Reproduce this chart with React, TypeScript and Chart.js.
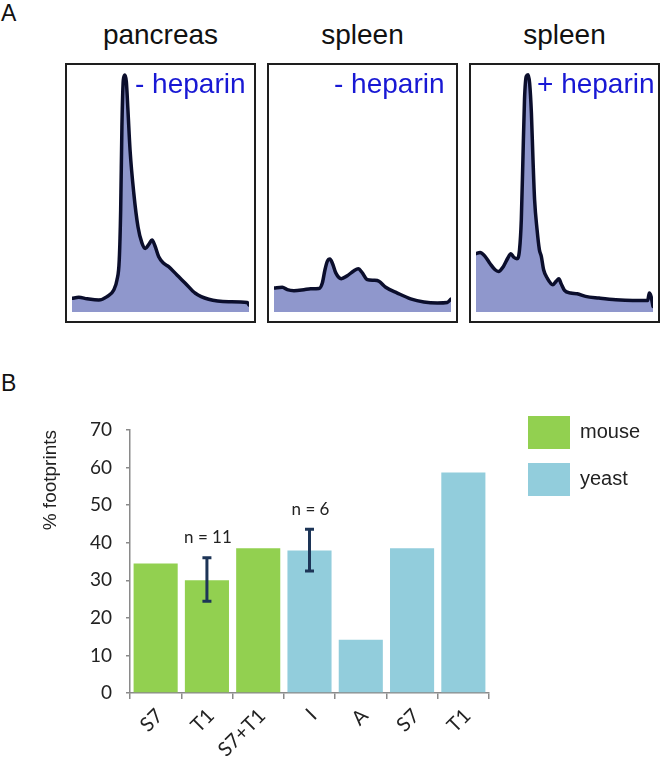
import React, { useEffect, useRef } from "react";
import { Chart, registerables } from "chart.js";

Chart.register(...registerables);

// ---------- Panel A: absorbance traces (position 0-100, intensity 0-100) ----------
const pancreasX = [0, 3.8, 8.5, 15.1, 19.8, 23.6, 25.4, 26.7, 27.5, 28.2, 29.0, 29.8, 30.7, 31.6, 32.8, 34.9, 37.3, 39.5, 41.4, 43.5, 45.2, 46.9, 49.0, 51.8, 54.6, 59.3, 64.0, 69.7, 77.2, 88.5, 98.9, 100];
const pancreasY = [5.7, 6.1, 5.5, 5.0, 6.4, 9.2, 13.3, 21.7, 42.5, 77.1, 96.7, 98.8, 96.0, 84.2, 67.5, 49.6, 35.4, 28.8, 26.5, 28.3, 30.0, 27.5, 23.0, 20.3, 18.9, 15.4, 12.0, 7.8, 5.3, 4.3, 4.0, 2.9];

const spleenX = [0, 4.7, 7.5, 11.3, 16.9, 20.7, 25.4, 27.3, 28.8, 30.1, 31.6, 33.1, 34.9, 38.0, 41.4, 45.2, 47.6, 49.9, 52.7, 56.5, 59.3, 63.1, 69.7, 77.2, 84.7, 92.3, 97.9, 100];
const spleenY = [10.0, 10.3, 9.3, 8.9, 9.3, 9.7, 9.8, 12.1, 17.6, 21.1, 22.1, 20.1, 16.3, 13.9, 15.1, 17.2, 18.0, 16.3, 13.5, 13.2, 12.8, 10.3, 7.9, 5.5, 4.2, 3.8, 4.0, 5.4];

const spleenHepX = [0, 2.3, 5.1, 8.0, 10.8, 12.7, 15.5, 18.0, 19.7, 21.2, 23.1, 24.6, 25.6, 26.5, 27.4, 28.4, 29.4, 30.3, 31.3, 32.2, 33.1, 34.5, 35.8, 36.9, 38.2, 40.2, 43.4, 45.3, 46.8, 48.1, 50.0, 53.4, 57.2, 61.9, 69.5, 79.0, 88.5, 97.0, 97.9, 98.9, 100];
const spleenHepY = [24.3, 24.8, 23.2, 20.1, 17.6, 16.9, 19.0, 22.5, 24.3, 22.9, 22.2, 26.0, 38.5, 63.5, 88.5, 98.2, 98.9, 95.4, 82.9, 63.5, 46.8, 34.3, 26.0, 23.2, 17.6, 14.2, 11.4, 12.8, 13.9, 11.8, 9.0, 7.9, 7.6, 6.5, 5.8, 5.1, 4.8, 4.8, 7.9, 6.5, 2.3];

const panelTitles = ["pancreas", "spleen", "spleen"];
const panelLabels = ["- heparin", "- heparin", "+ heparin"];

// ---------- Panel B: footprint percentages ----------
const categories = ["S7", "T1", "S7+T1", "I", "A", "S7", "T1"];
const mouseValues = [34.5, 30.0, 38.5, null, null, null, null];
const yeastValues = [null, null, null, 37.9, 14.2, 38.5, 58.7];
const errLow = [null, 24.4, null, 32.5, null, null, null];
const errHigh = [null, 36.0, null, 43.6, null, null, null];
const nLabels = ["", "n = 11", "", "n = 6", "", "", ""];
const seriesNames = ["mouse", "yeast"];
const yMin = 0;
const yMax = 70;
const yStep = 10;

const SANS = "'Liberation Sans', Arial, sans-serif";
const NARROW = "Lato, 'Open Sans', sans-serif";

function Trace({ left, xs, ys, title, label, labelLeft }: any) {
  const ref = useRef<HTMLCanvasElement>(null);
  useEffect(() => {
    const chart = new Chart(ref.current!, {
      type: "line",
      data: {
        datasets: [
          {
            data: xs.map((x: number, i: number) => ({ x, y: ys[i] })),
            borderColor: "#0b0e2c",
            borderWidth: 3.5,
            backgroundColor: "#8f97cc",
            fill: "start",
            pointRadius: 0,
            cubicInterpolationMode: "monotone",
            borderCapStyle: "round",
            borderJoinStyle: "round",
          } as any,
        ],
      },
      options: {
        animation: false,
        responsive: false,
        maintainAspectRatio: false,
        events: [],
        layout: { padding: { left: 5, right: 5, top: 7, bottom: 9 } },
        scales: {
          x: { type: "linear", min: 0, max: 100, display: false },
          y: { type: "linear", min: 0, max: 100, display: false },
        },
        plugins: { legend: { display: false }, tooltip: { enabled: false } },
      },
    });
    return () => chart.destroy();
  }, []);
  return (
    <>
      <div
        style={{
          position: "absolute",
          left,
          top: 21,
          width: 191,
          textAlign: "center",
          font: `28px/28px ${SANS}`,
          color: "#111",
        }}
      >
        {title}
      </div>
      <div
        style={{
          position: "absolute",
          left,
          top: 63,
          width: 191,
          height: 260,
          border: "2px solid #1e1e1e",
          boxSizing: "border-box",
        }}
      >
        <canvas ref={ref} width={187} height={256} style={{ position: "absolute", left: 0, top: 0, width: 187, height: 256 }} />
      </div>
      <div
        style={{
          position: "absolute",
          left: labelLeft,
          top: 70,
          font: `28px/28px ${SANS}`,
          color: "#1818d4",
          whiteSpace: "nowrap",
        }}
      >
        {label}
      </div>
    </>
  );
}

const errorBarPlugin = {
  id: "errorBars",
  afterDatasetsDraw(chart: any) {
    const { ctx } = chart;
    const x = chart.scales.x;
    const y = chart.scales.y;
    ctx.save();
    errLow.forEach((lo, i) => {
      const hi = errHigh[i];
      if (lo == null || hi == null) return;
      const px = x.getPixelForValue(i);
      const yLo = y.getPixelForValue(lo);
      const yHi = y.getPixelForValue(hi);
      ctx.strokeStyle = "#1d3557";
      ctx.lineWidth = 3;
      ctx.lineCap = "butt";
      ctx.beginPath();
      ctx.moveTo(px, yLo);
      ctx.lineTo(px, yHi);
      ctx.moveTo(px - 4.5, yLo);
      ctx.lineTo(px + 4.5, yLo);
      ctx.moveTo(px - 4.5, yHi);
      ctx.lineTo(px + 4.5, yHi);
      ctx.stroke();
      if (nLabels[i]) {
        ctx.fillStyle = "#222";
        ctx.font = `17px ${NARROW}`;
        ctx.textAlign = "center";
        ctx.textBaseline = "middle";
        ctx.fillText(nLabels[i], px + 1, yHi - 20);
      }
    });
    ctx.restore();
  },
};

function BarPanel() {
  const ref = useRef<HTMLCanvasElement>(null);
  useEffect(() => {
    const axisColor = "#8a8a8a";
    const chart = new Chart(ref.current!, {
      type: "bar",
      data: {
        labels: categories,
        datasets: [
          {
            label: seriesNames[0],
            data: mouseValues,
            backgroundColor: "#92d050",
            borderWidth: 0,
            grouped: false,
            barPercentage: 0.86,
            categoryPercentage: 1,
          } as any,
          {
            label: seriesNames[1],
            data: yeastValues,
            backgroundColor: "#92cddc",
            borderWidth: 0,
            grouped: false,
            barPercentage: 0.86,
            categoryPercentage: 1,
          } as any,
        ],
      },
      options: {
        animation: false,
        responsive: false,
        maintainAspectRatio: false,
        events: [],
        layout: { padding: 0 },
        scales: {
          x: {
            offset: true,
            grid: {
              display: true,
              drawOnChartArea: false,
              drawTicks: true,
              tickLength: 6,
              color: axisColor,
              lineWidth: 1.5,
              offset: true,
            },
            border: { display: true, color: axisColor, width: 1.5 },
            ticks: {
              minRotation: 45,
              maxRotation: 45,
              autoSkip: false,
              padding: 5,
              labelOffset: 4,
              color: "#222",
              font: { family: NARROW, size: 20 },
            },
            afterFit: (s: any) => {
              s.height = 64;
            },
          },
          y: {
            min: yMin,
            max: yMax,
            ticks: {
              stepSize: yStep,
              padding: 14,
              color: "#222",
              font: { family: NARROW, size: 19 },
            },
            grid: { drawOnChartArea: false, tickLength: 4, color: axisColor, lineWidth: 1.5 },
            border: { display: true, color: axisColor, width: 1.5 },
            title: {
              display: true,
              text: "% footprints",
              align: "end",
              color: "#222",
              font: { family: SANS, size: 19 },
              padding: { top: 39, bottom: 0 },
            },
            afterFit: (s: any) => {
              s.width = 130;
            },
          },
          topSpacer: {
            type: "linear",
            position: "top",
            display: true,
            grid: { display: false },
            border: { display: false },
            ticks: { display: false },
            afterFit: (s: any) => {
              s.height = 28;
            },
          },
          rightSpacer: {
            type: "linear",
            position: "right",
            display: true,
            grid: { display: false },
            border: { display: false },
            ticks: { display: false },
            afterFit: (s: any) => {
              s.width = 25;
            },
          },
        } as any,
        plugins: {
          legend: {
            display: true,
            position: "right",
            align: "start",
            maxWidth: 136,
            labels: {
              boxWidth: 42,
              boxHeight: 33,
              padding: 14,
              color: "#222",
              font: { family: SANS, size: 20 },
            },
          },
          tooltip: { enabled: false },
        },
      },
      plugins: [errorBarPlugin],
    });
    return () => chart.destroy();
  }, []);
  return (
    <canvas
      ref={ref}
      width={650}
      height={355}
      style={{ position: "absolute", left: 0, top: 402, width: 650, height: 355 }}
    />
  );
}

export default function App() {
  return (
    <div
      style={{
        position: "absolute",
        left: 0,
        top: 0,
        width: 661,
        height: 757,
        overflow: "hidden",
        background: "#fff",
        fontFamily: SANS,
      }}
    >
      <div style={{ position: "absolute", left: 1, top: 2, font: `23px/23px ${SANS}`, color: "#111" }}>A</div>
      <div style={{ position: "absolute", left: 1, top: 372, font: `23px/23px ${SANS}`, color: "#111" }}>B</div>
      <Trace left={65} xs={pancreasX} ys={pancreasY} title={panelTitles[0]} label={panelLabels[0]} labelLeft={135} />
      <Trace left={267} xs={spleenX} ys={spleenY} title={panelTitles[1]} label={panelLabels[1]} labelLeft={334} />
      <Trace left={469} xs={spleenHepX} ys={spleenHepY} title={panelTitles[2]} label={panelLabels[2]} labelLeft={537} />
      <BarPanel />
    </div>
  );
}
